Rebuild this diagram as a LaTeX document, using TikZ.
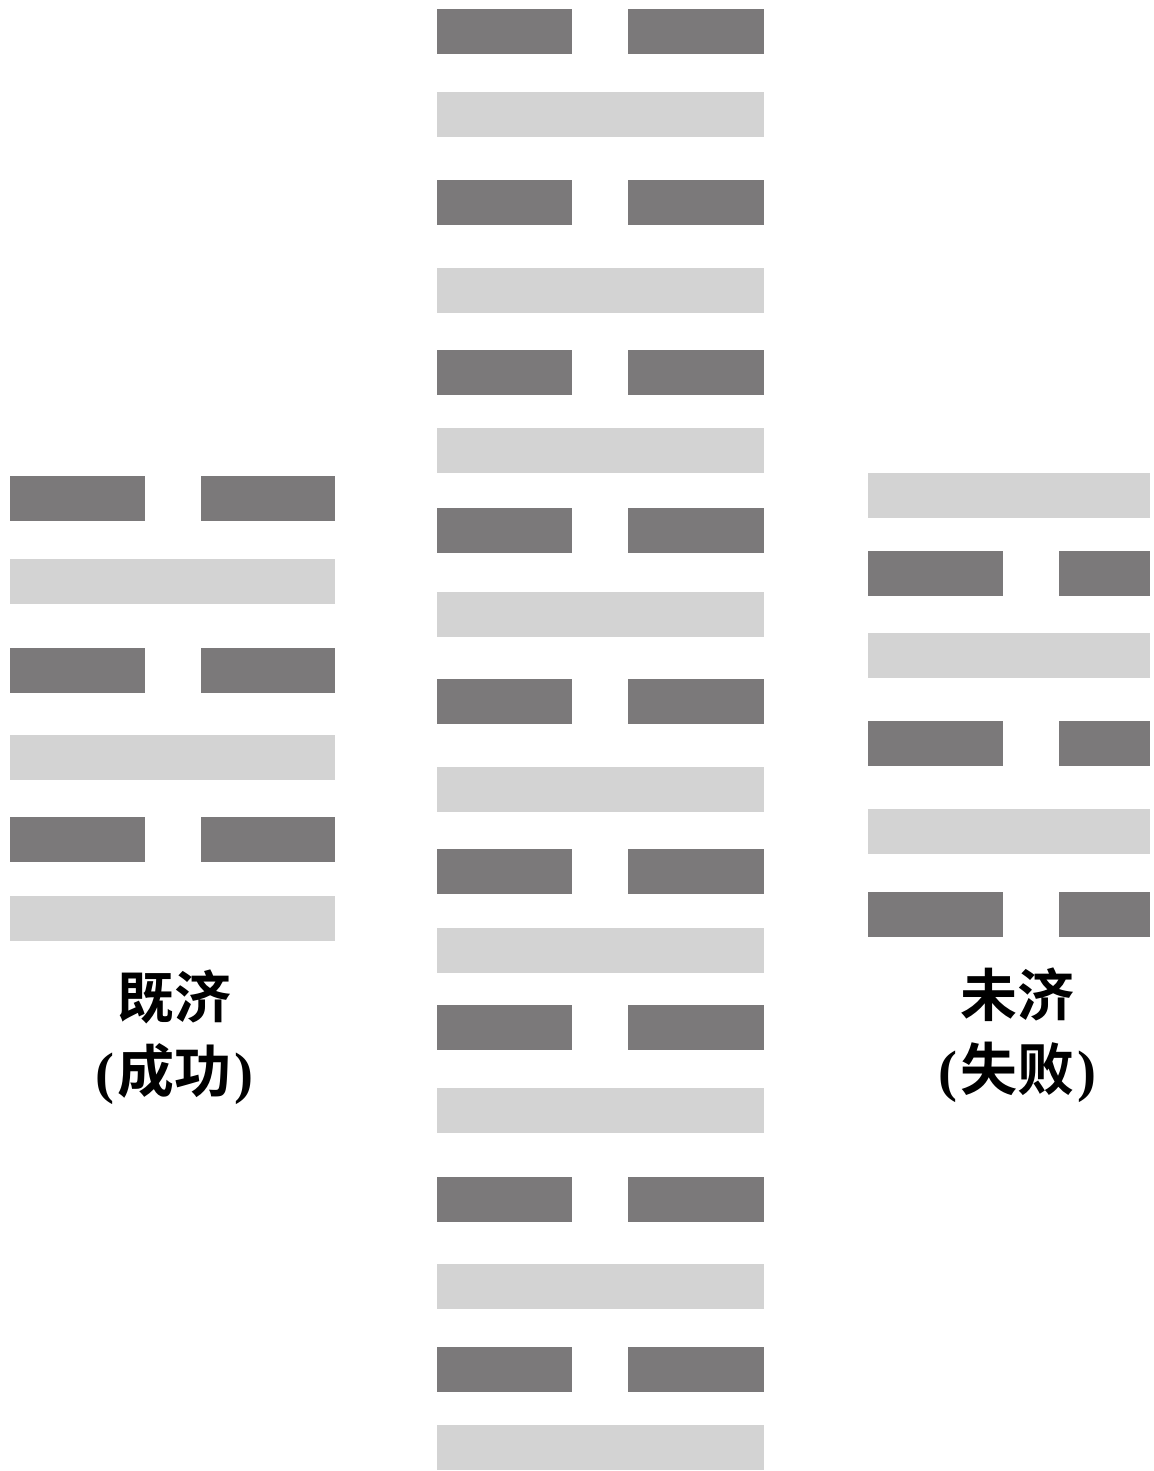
\documentclass[tikz,border=0pt]{standalone}
\usepackage{fontspec}
\setmainfont{Liberation Serif}
\newfontfamily\cjk{Noto Sans CJK SC}[BoldFont={* Bold}]
\usepackage{tikz}
\definecolor{yinfill}{RGB}{123,121,122}
\definecolor{yangfill}{RGB}{211,211,211}
% #1 left edge, #2 right edge, #3 top edge
\newcommand{\yangbar}[3]{\fill[yangfill] (#1,#3) rectangle (#2,#3+45);}
\newcommand{\yinbar}[3]{\fill[yinfill] (#1,#3) rectangle (#1+135,#3+45);
    \fill[yinfill] (#1+191,#3) rectangle (#2,#3+45);}

\begin{document}
\begin{tikzpicture}[x=0.5pt, y=-0.5pt,
    hexname/.style={align=center, inner sep=0pt,
        font=\fontsize{28.5}{37}\selectfont\bfseries}]
    \useasboundingbox (0,0) rectangle (1153,1471);

    % left hexagram
    \yinbar{10}{335}{476}
    \yangbar{10}{335}{559}
    \yinbar{10}{335}{648}
    \yangbar{10}{335}{735}
    \yinbar{10}{335}{817}
    \yangbar{10}{335}{896}
    \node[hexname] (jiji) at (174,1037) {{\cjk 既济}\\(\kern1.5pt{\cjk 成功}\kern1.5pt)};

    % middle column
    \yinbar{437}{764}{9}
    \yangbar{437}{764}{92}
    \yinbar{437}{764}{180}
    \yangbar{437}{764}{268}
    \yinbar{437}{764}{350}
    \yangbar{437}{764}{428}
    \yinbar{437}{764}{508}
    \yangbar{437}{764}{592}
    \yinbar{437}{764}{679}
    \yangbar{437}{764}{767}
    \yinbar{437}{764}{849}
    \yangbar{437}{764}{928}
    \yinbar{437}{764}{1005}
    \yangbar{437}{764}{1088}
    \yinbar{437}{764}{1177}
    \yangbar{437}{764}{1264}
    \yinbar{437}{764}{1347}
    \yangbar{437}{764}{1425}

    % right hexagram
    \yangbar{868}{1150}{473}
    \yinbar{868}{1150}{551}
    \yangbar{868}{1150}{633}
    \yinbar{868}{1150}{721}
    \yangbar{868}{1150}{809}
    \yinbar{868}{1150}{892}
    \node[hexname] (weiji) at (1017,1035) {{\cjk 未济}\\(\kern1.5pt{\cjk 失败}\kern1.5pt)};
\end{tikzpicture}
\end{document}
